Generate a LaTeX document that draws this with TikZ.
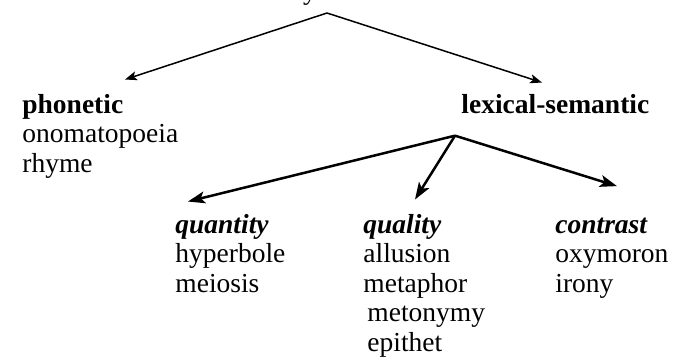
\documentclass[tikz,border=0pt]{standalone}
\usepackage{fontspec}
\setmainfont{Liberation Serif}
\usetikzlibrary{arrows.meta}
\tikzset{
  words/.style={anchor=base west, align=left, inner sep=0pt,
                font=\fontsize{13.75}{14.75}\selectfont},
  thinarr/.style={-{Stealth[length=2.1mm,width=1.6mm,inset=0.5mm]}, line width=0.75pt},
  thickarr/.style={-{Stealth[length=3mm,width=2.1mm,inset=0.7mm]}, line width=1.25pt},
}

\begin{document}
\begin{tikzpicture}[x=0.5pt,y=-0.5pt]
    \useasboundingbox (0,0) rectangle (675,360);
    % base of a multi-line node = baseline of its last line
    \node[words, anchor=base] (title) at (370,-1) {Stylistic devices};
    \node[words] (phon) at (22,172) {\textbf{phonetic}\\onomatopoeia\\rhyme};
    \node[words] (lex) at (461,113) {\textbf{lexical-semantic}};
    \node[words] (quan) at (175,292) {\textbf{\textit{quantity}}\\hyperbole\\meiosis};
    \node[words] (qual) at (363,351) {\textbf{\textit{quality}}\\allusion\\metaphor\\\hspace*{2pt}metonymy\\\hspace*{2pt}epithet};
    \node[words] (contr) at (555,292) {\textbf{\textit{contrast}}\\oxymoron\\irony};
    \coordinate (top) at (327,13);
    \coordinate (fork) at ([shift={(-6,22)}]lex.south west);
    \draw[thinarr] (top) -- ([shift={(103,-14)}]phon.north west);
    \draw[thinarr] (top) -- ([shift={(81,-11)}]lex.north west);
    \draw[thickarr] (fork) -- ([shift={(13,-12)}]quan.north west);
    \draw[thickarr] (fork) -- ([shift={(52,-14)}]qual.north west);
    \draw[thickarr] (fork) -- ([shift={(62,-31)}]contr.north west);
\end{tikzpicture}
\end{document}
